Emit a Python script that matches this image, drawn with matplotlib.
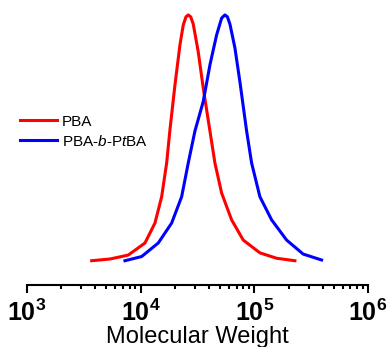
import numpy as np
import matplotlib.pyplot as plt

plt.rcParams['font.family'] = ['Liberation Sans', 'DejaVu Sans']
plt.rcParams['mathtext.fontset'] = 'custom'
plt.rcParams['mathtext.rm'] = 'Liberation Sans'
plt.rcParams['mathtext.bf'] = 'Liberation Sans:bold'
plt.rcParams['mathtext.it'] = 'Liberation Sans:italic'

# molecular weight (g/mol) and normalised intensity
pba_mw = [3707, 5370, 7780, 10910, 13360, 15300, 16930, 18100, 20030,
          22160, 23700, 25030, 26220, 27580, 29010, 32110, 35530, 40700,
          45030, 51580, 63160, 79880, 112000, 157100, 227600]
pba_int = [0.001, 0.008, 0.024, 0.073, 0.154, 0.261, 0.398, 0.533, 0.715,
           0.878, 0.959, 0.992, 1.0, 0.992, 0.963, 0.850, 0.703, 0.528,
           0.398, 0.276, 0.167, 0.085, 0.033, 0.011, 0.001]

blk_mw = [7275, 10200, 14280, 18730, 22940, 26220, 30030, 35530, 40700,
          46610, 51580, 55120, 58000, 61000, 67500, 74700, 85560, 94690,
          112000, 142000, 192300, 269200, 390800]
blk_int = [0.001, 0.018, 0.073, 0.154, 0.261, 0.398, 0.528, 0.648, 0.797,
           0.919, 0.987, 1.0, 0.992, 0.963, 0.866, 0.728, 0.528, 0.398,
           0.261, 0.167, 0.085, 0.028, 0.004]

ticks = [1e3, 1e4, 1e5, 1e6]
tick_labels = [r'$\mathbf{10^{3}}$', r'$\mathbf{10^{4}}$',
               r'$\mathbf{10^{5}}$', r'$\mathbf{10^{6}}$']

fig = plt.figure(figsize=(3.87, 3.47), dpi=100)
ax = fig.add_axes([0.0698, 0.1787, 0.881, 0.7925])

ax.plot(pba_mw, pba_int, color='#ff0000', lw=2.2, label='PBA')
ax.plot(blk_mw, blk_int, color='#0000ff', lw=2.2,
        label=r'PBA-$\it{b}$-P$\it{t}$BA')

ax.set_xscale('log')
ax.set_xlim(1e3, 1e6)
ax.set_ylim(-0.0976, 1.02)
ax.set_xticks(ticks)
ax.set_xticklabels(tick_labels, fontsize=18)
ax.set_yticks([])
for s in ['left', 'right', 'top']:
    ax.spines[s].set_visible(False)
ax.spines['bottom'].set_linewidth(1.5)
ax.tick_params(axis='x', which='major', length=5.5, width=1.5, pad=5)
ax.tick_params(axis='x', which='minor', length=3, width=1.5)
ax.set_xlabel('Molecular Weight', fontsize=17, labelpad=0)

fig.legend(loc='center left', bbox_to_anchor=(0.052, 0.6205), frameon=False,
           fontsize=11, handlelength=2.4, handletextpad=0.33,
           borderpad=0, borderaxespad=0, labelspacing=0.31)

fig.savefig('out.png', dpi=100)
